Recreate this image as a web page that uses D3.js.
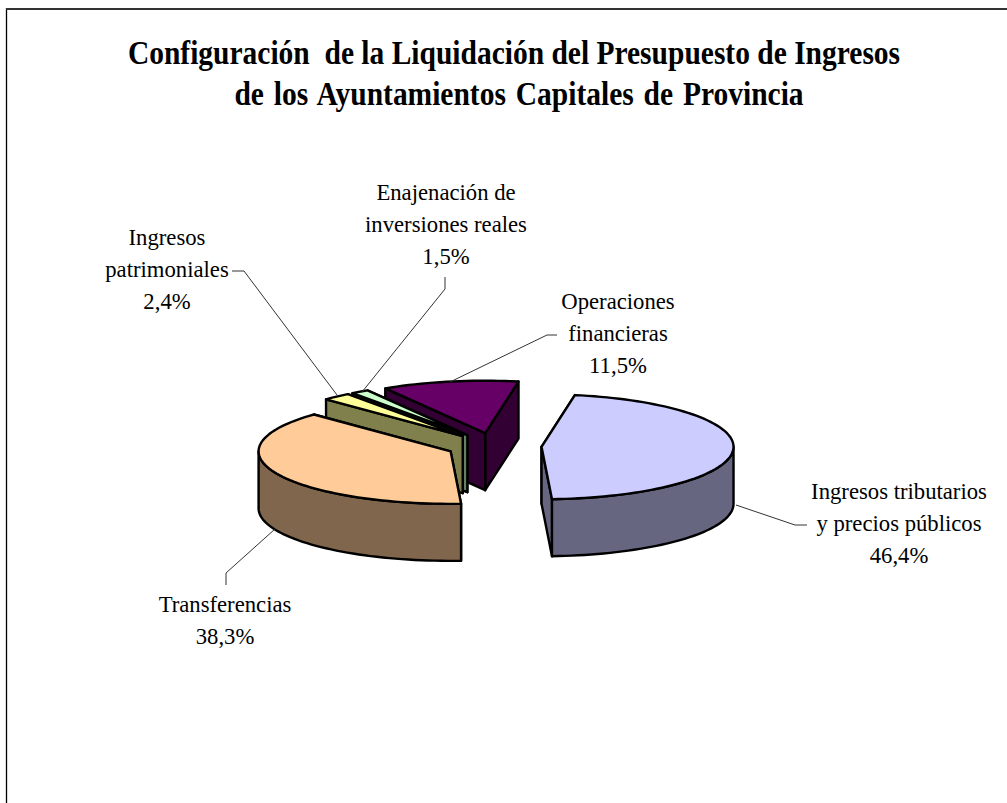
<!DOCTYPE html>
<html><head><meta charset="utf-8">
<script src="https://cdn.jsdelivr.net/npm/d3@7/dist/d3.min.js"></script>
<style>html,body{margin:0;padding:0;background:#fff}svg{display:block}</style>
</head><body><svg id="c" width="1007" height="803"></svg>
<script>
const categories = ["Ingresos tributarios y precios públicos","Transferencias","Ingresos patrimoniales","Enajenación de inversiones reales","Operaciones financieras"];
const values = [46.4,38.3,2.4,1.5,11.5];
const topColors = ["#CCCCFF","#FFCC99","#FFFF99","#CCFFCC","#660066"];
const sideColors = ["#666680","#80664D","#80804D","#668066","#330033"];
const labelLines = [["Ingresos tributarios","y precios públicos","46,4%"],["Transferencias","38,3%"],["Ingresos","patrimoniales","2,4%"],["Enajenación de","inversiones reales","1,5%"],["Operaciones","financieras","11,5%"]];
const titleLines = ["Configuración  de la Liquidación del Presupuesto de Ingresos","de los Ayuntamientos Capitales de Provincia"];

const W=1007,H=803, cx=494, cy=446, rx=192, ry=52.5, depth=57, explode=0.248;
const rad=Math.PI/180;
const svg=d3.select("#c");
const font="'Liberation Serif','Times New Roman',serif";

// frame (top and left only)
svg.append("path").attr("d",`M6.5,${H} V8`).attr("fill","none").attr("stroke","#000").attr("stroke-width",1.3);
svg.append("path").attr("d",`M6,9 H${W}`).attr("fill","none").attr("stroke","#333").attr("stroke-width",2);

const pie=d3.pie().sort(null).startAngle(10*rad).endAngle(370*rad);
const arcs=pie(values).map((d,i)=>({...d,i}));
const pt=(c,a,dz=0)=>[c[0]+rx*Math.sin(a),c[1]-ry*Math.cos(a)+dz];
const line=d3.line();
const samples=(a0,a1)=>d3.range(0,1.0001,1/Math.max(2,Math.ceil((a1-a0)/(2*rad)))).map(t=>a0+(a1-a0)*t);

// painter's order: back slices first
const order=[4,3,2,1,0];
const gS=svg.append("g").attr("stroke","#000").attr("stroke-width",2.4).attr("stroke-linejoin","round");
order.forEach(i=>{
  const d=arcs[i], mid=(d.startAngle+d.endAngle)/2;
  const c=[cx+explode*rx*Math.sin(mid), cy-explode*ry*Math.cos(mid)];
  const g=gS.append("g");
  const A=pt(c,d.startAngle), B=pt(c,d.endAngle);
  const walls=[A,B].map(p=>[c,p,[p[0],p[1]+depth],[c[0],c[1]+depth]]);
  walls.sort((a,b)=>a[1][1]-b[1][1]).forEach(w=>g.append("path").attr("d",line(w)+"Z").attr("fill",sideColors[i]));
  const lo=Math.max(d.startAngle,90*rad), hi=Math.min(d.endAngle,270*rad);
  if(hi>lo){
    const s=samples(lo,hi);
    const pts=s.map(a=>pt(c,a)).concat(s.slice().reverse().map(a=>pt(c,a,depth)));
    g.append("path").attr("d",line(pts)+"Z").attr("fill",sideColors[i]);
  }
  const top=[c].concat(samples(d.startAngle,d.endAngle).map(a=>pt(c,a)));
  g.append("path").attr("d",line(top)+"Z").attr("fill",topColors[i]);
});

// title: tall, condensed letterforms as in the reference
const t=svg.append("g").attr("font-family",font).attr("font-weight","bold").attr("font-size",33).attr("text-anchor","middle").attr("fill","#000");
titleLines.forEach((s,k)=>t.append("text").attr("transform",`translate(${[514,519][k]},${[64,105][k]}) scale(0.894,1)`).style("white-space","pre").style("word-spacing",[0,2.8][k]+"px").text(s));

// labels
const labelPos=[[899,499],[225,612],[167,245],[446,200],[618,309]];
const leaders=[
 [[736,505],[795,525],[807,525]],
 [[275,529],[226,573],[226,585]],
 [[337,395],[244,271],[232,271]],
 [[362,392],[445,289],[445,277]],
 [[450,382],[547,335],[557,335]]
];
const gL=svg.append("g").attr("fill","none").attr("stroke","#333").attr("stroke-width",1);
leaders.forEach(l=>gL.append("path").attr("d",line(l)));
const gT=svg.append("g").attr("font-family",font).attr("font-size",22.7).attr("text-anchor","middle").attr("fill","#000");
labelLines.forEach((ls,i)=>ls.forEach((s,k)=>gT.append("text").attr("x",labelPos[i][0]).attr("y",labelPos[i][1]+k*32).text(s)));
</script></body></html>
